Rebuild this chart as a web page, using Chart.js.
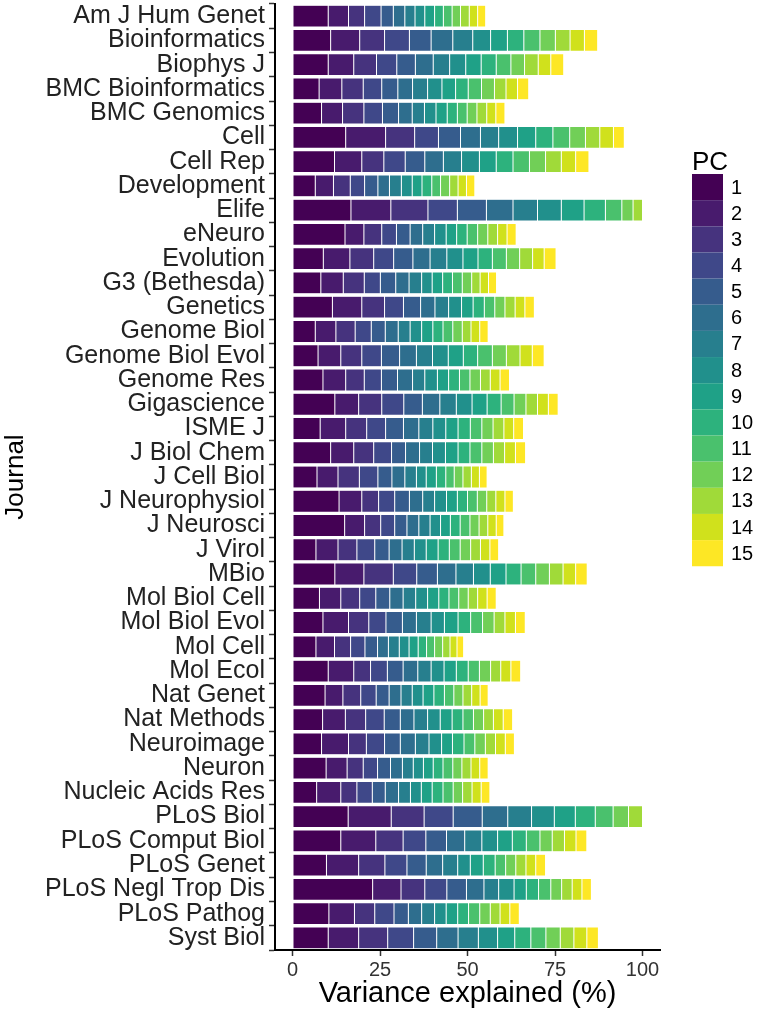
<!DOCTYPE html>
<html><head><meta charset="utf-8">
<script src="https://cdn.jsdelivr.net/npm/chart.js@4.4.1/dist/chart.umd.min.js"></script>
<style>html,body{margin:0;padding:0;background:#fff;}#wrap{width:781px;height:1028px;position:relative;}</style>
</head><body><div id="wrap"><canvas id="c" width="781" height="1028"></canvas></div>
<script>
const journals = ["Am J Hum Genet","Bioinformatics","Biophys J","BMC Bioinformatics","BMC Genomics","Cell","Cell Rep","Development","Elife","eNeuro","Evolution","G3 (Bethesda)","Genetics","Genome Biol","Genome Biol Evol","Genome Res","Gigascience","ISME J","J Biol Chem","J Cell Biol","J Neurophysiol","J Neurosci","J Virol","MBio","Mol Biol Cell","Mol Biol Evol","Mol Cell","Mol Ecol","Nat Genet","Nat Methods","Neuroimage","Neuron","Nucleic Acids Res","PLoS Biol","PLoS Comput Biol","PLoS Genet","PLoS Negl Trop Dis","PLoS Pathog","Syst Biol"];
const pcLabels = ["1","2","3","4","5","6","7","8","9","10","11","12","13","14","15"];
const xTicks = [0, 25, 50, 75, 100];

// variance explained (%) by PC1..PC15, per journal
const amJHumGenet = [10.2,5.8,4.6,4.7,3.5,3.3,2.9,2.8,2.8,2.5,2.5,2.4,2.5,2.4,2.3];
const bioinformatics = [10.9,8.3,7.1,7.1,6.2,6.2,5.7,5.1,4.8,4.7,4.6,4.4,4.2,4.1,3.8];
const biophysJ = [10.2,7.3,6.5,5.8,5.3,5.1,4.7,4.6,4.4,4.3,4.2,3.9,3.9,3.6,3.7];
const bmcBioinformatics = [7.6,6.5,6.1,5.3,4.6,4.2,4.3,4.1,3.9,3.6,3.8,3.7,3.3,3.3,3.2];
const bmcGenomics = [8.3,6.0,6.1,5.3,4.6,3.9,3.5,3.3,3.2,2.9,2.8,2.8,2.8,2.6,2.6];
const cell = [15.2,11.4,8.3,6.8,6.3,5.7,5.2,5.4,5.2,4.9,4.8,4.5,4.1,3.9,3.1];
const cellRep = [12.0,7.8,6.3,6.1,5.6,5.3,5.2,5.1,4.8,4.8,4.7,4.6,4.5,4.1,3.8];
const development = [6.5,5.2,4.8,4.1,3.8,3.3,3.4,3.1,2.8,2.8,2.5,2.6,2.4,2.4,2.4];
const elife = [16.7,11.4,10.6,8.4,8.3,7.6,7.0,6.8,6.5,6.1,4.7,3.2,2.7,0,0];
const eNeuro = [15.0,5.4,5.1,4.2,3.9,3.6,3.4,3.3,3.0,3.0,3.0,2.9,2.8,2.7,2.6];
const evolution = [8.8,7.6,6.8,5.7,5.5,4.9,4.8,4.6,4.3,4.1,4.0,3.8,3.7,3.3,3.4];
const g3 = [8.1,6.4,6.0,4.6,4.4,3.8,3.6,3.0,3.0,2.8,2.8,2.7,2.4,2.4,2.3];
const genetics = [11.4,8.4,6.5,5.4,4.9,4.1,3.9,3.7,3.3,3.2,3.0,2.9,2.9,2.8,2.7];
const genomeBiol = [6.5,5.9,5.5,4.6,4.0,3.7,3.4,3.3,3.2,2.9,2.8,2.7,2.5,2.5,2.4];
const genomeBiolEvol = [7.3,6.5,6.0,5.6,5.2,4.8,4.6,4.5,4.3,4.1,4.2,4.0,3.9,3.5,3.4];
const genomeRes = [8.7,6.5,5.3,4.9,4.6,4.3,3.5,3.6,3.2,3.1,3.0,3.0,2.8,2.8,2.7];
const gigascience = [12.1,6.8,6.6,6.3,5.3,5.0,4.7,4.5,4.3,4.0,3.7,3.4,3.3,3.1,2.8];
const ismeJ = [7.9,7.3,6.0,5.4,5.1,4.4,4.0,3.7,3.5,3.5,3.3,3.2,3.1,2.8,2.8];
const jBiolChem = [10.9,6.6,5.7,5.1,4.0,4.0,3.7,3.7,3.6,3.4,3.4,3.3,3.2,3.1,2.9];
const jCellBiol = [7.0,6.0,6.1,5.3,4.0,3.7,3.3,2.8,2.9,2.7,2.4,2.5,2.4,2.3,2.2];
const jNeurophysiol = [13.3,6.5,4.8,4.6,4.2,3.8,3.4,3.4,3.1,2.9,2.8,2.7,2.6,2.6,2.4];
const jNeurosci = [14.9,5.7,4.6,4.0,3.5,3.4,3.2,3.0,2.8,2.8,2.8,2.6,2.5,2.4,2.2];
const jVirol = [6.7,6.3,5.4,5.1,4.1,3.7,3.5,3.4,3.4,3.2,3.1,3.0,2.8,2.7,2.5];
const mBio = [12.1,8.3,8.4,6.7,5.9,5.3,5.0,4.8,4.5,4.3,4.2,3.9,3.9,3.6,3.3];
const molBiolCell = [7.7,6.1,5.4,4.6,4.0,3.8,3.6,3.4,3.2,2.9,2.8,2.7,2.7,2.7,2.6];
const molBiolEvol = [8.7,7.3,5.8,4.9,4.7,4.0,4.2,3.8,3.9,3.6,3.4,3.3,3.1,3.0,2.8];
const molCell = [6.7,5.3,4.6,4.1,3.6,3.1,3.1,2.8,2.6,2.4,2.3,2.3,2.1,2.0,1.9];
const molEcol = [10.2,7.3,4.8,4.8,4.5,4.2,3.8,3.7,3.5,3.4,3.2,3.2,2.9,2.9,2.8];
const natGenet = [9.3,5.1,5.1,4.4,3.7,3.4,3.2,3.1,3.1,3.0,2.7,2.6,2.5,2.4,2.3];
const natMethods = [8.6,6.5,5.8,5.3,4.6,3.9,3.9,3.6,3.4,3.1,3.0,2.9,2.8,2.8,2.7];
const neuroimage = [8.3,7.7,5.1,5.2,4.5,4.3,3.9,3.6,3.1,3.3,3.1,3.0,2.9,2.8,2.6];
const neuron = [9.6,6.0,4.6,4.1,3.7,3.4,3.1,2.9,2.8,2.8,2.8,2.6,2.6,2.5,2.4];
const nucleicAcidsRes = [6.9,6.9,4.6,4.4,3.7,3.8,3.4,3.1,3.1,3.1,2.9,2.7,2.7,2.6,2.5];
const plosBiol = [15.9,12.3,9.4,8.3,8.3,7.3,6.8,6.5,6.0,5.7,5.1,4.4,4.0,0,0];
const plosComputBiol = [13.8,10.0,7.8,6.5,5.9,5.2,4.9,4.5,4.2,4.0,3.9,3.5,3.5,3.3,3.1];
const plosGenet = [9.7,9.2,7.5,6.3,5.5,4.7,4.3,3.6,3.7,3.4,3.0,2.9,2.9,2.8,2.8];
const plosNeglTropDis = [22.9,8.1,6.8,6.3,5.6,5.0,4.2,4.4,3.5,3.5,3.5,3.1,3.0,2.8,2.7];
const plosPathog = [10.4,7.3,5.8,5.5,4.1,3.8,3.7,3.3,3.3,3.1,3.2,3.0,2.8,2.8,2.7];
const systBiol = [10.2,8.7,8.3,7.4,6.6,6.1,5.8,5.5,4.9,4.6,4.3,4.1,3.9,3.7,3.3];

const rows = [amJHumGenet,bioinformatics,biophysJ,bmcBioinformatics,bmcGenomics,cell,cellRep,development,elife,eNeuro,evolution,g3,genetics,genomeBiol,genomeBiolEvol,genomeRes,gigascience,ismeJ,jBiolChem,jCellBiol,jNeurophysiol,jNeurosci,jVirol,mBio,molBiolCell,molBiolEvol,molCell,molEcol,natGenet,natMethods,neuroimage,neuron,nucleicAcidsRes,plosBiol,plosComputBiol,plosGenet,plosNeglTropDis,plosPathog,systBiol];

const viridis15 = ["#440154","#481B6D","#46337E","#3F4889","#365C8D","#2E6E8E","#277F8E","#21908C","#1FA187","#2DB27D","#4AC16D","#71CF57","#A0DA39","#D0E11C","#FDE725"];

const FONT = "'Liberation Sans', Arial, Helvetica, sans-serif";

const datasets = pcLabels.map((lab, k) => ({
  label: lab,
  data: rows.map(r => r[k]),
  backgroundColor: viridis15[k],
  borderColor: 'rgba(255,255,255,0.45)',
  borderWidth: 0.5,
  borderSkipped: false,
  categoryPercentage: 1.0,
  barPercentage: 0.9
}));

const legendPlugin = {
  id: 'pcLegend',
  afterDraw(chart) {
    const ctx = chart.ctx;
    ctx.save();
    const x0 = 692, y0 = 174, bw = 31, bh = 26.15;
    ctx.fillStyle = '#000';
    ctx.font = '26px ' + FONT;
    ctx.textAlign = 'left';
    ctx.textBaseline = 'alphabetic';
    ctx.fillText('PC', x0, y0 - 4);
    chart.data.datasets.forEach((ds, i) => {
      const y = y0 + i * bh;
      ctx.fillStyle = ds.backgroundColor;
      ctx.fillRect(x0, y, bw, bh);
      ctx.fillStyle = '#000';
      ctx.font = '20px ' + FONT;
      ctx.textBaseline = 'middle';
      ctx.fillText(ds.label, x0 + bw + 8, y + bh / 2 + 1);
    });
    ctx.restore();
  }
};

new Chart(document.getElementById('c'), {
  type: 'bar',
  data: { labels: journals, datasets },
  options: {
    indexAxis: 'y',
    responsive: false,
    animation: false,
    devicePixelRatio: 1,
    layout: { padding: { top: 4, right: 121, left: 0, bottom: 0 } },
    plugins: { legend: { display: false }, tooltip: { enabled: false } },
    scales: {
      x: {
        stacked: true,
        min: -5, max: 105,
        afterBuildTicks(scale) { scale.ticks = xTicks.map(v => ({ value: v })); },
        afterFit(scale) { scale.height = 78; scale.paddingLeft = 0; scale.paddingRight = 0; },
        grid: { drawOnChartArea: false, drawTicks: true, tickLength: 6, tickColor: '#333', tickWidth: 1.5 },
        border: { display: true, color: '#000', width: 2 },
        ticks: { color: '#333', font: { family: FONT, size: 20 }, padding: 2, maxRotation: 0 },
        title: { display: true, text: 'Variance explained (%)', color: '#000', font: { family: FONT, size: 29 }, padding: { top: 0, bottom: 17 } }
      },
      y: {
        stacked: true,
        afterFit(scale) { scale.width = 275; scale.paddingTop = 0; scale.paddingBottom = 0; },
        grid: { drawOnChartArea: false, drawTicks: true, tickLength: 6, tickColor: '#333', tickWidth: 1.5 },
        border: { display: true, color: '#000', width: 2 },
        ticks: { color: '#222', font: { family: FONT, size: 25 }, padding: 4, autoSkip: false },
        title: { display: true, text: 'Journal', color: '#000', font: { family: FONT, size: 26 }, padding: { top: 0, bottom: 0 } }
      }
    }
  },
  plugins: [legendPlugin]
});
</script></body></html>
